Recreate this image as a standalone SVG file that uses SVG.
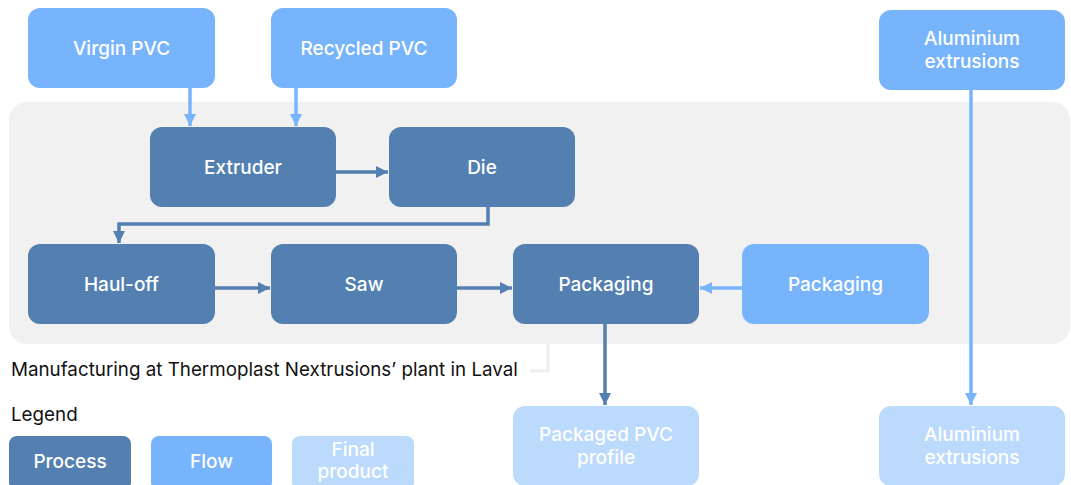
<svg xmlns="http://www.w3.org/2000/svg" width="1071" height="485" viewBox="0 0 1071 485">
<style>
.proc{fill:#537fb1}
.flow{fill:#78b4fc}
.fin{fill:#bcdafc}
.lbl{font-family:Inter,"Noto Sans",sans-serif;font-size:19px;font-weight:500;fill:#ffffff;text-anchor:middle}
.cap{font-family:Inter,"Noto Sans",sans-serif;font-size:18.8px;fill:#111111}
.cd{fill:none;stroke:#537fb1;stroke-width:3.5}
.cl{fill:none;stroke:#78b4fc;stroke-width:3.5}
</style>
<defs>
<marker id="ad" markerUnits="userSpaceOnUse" markerWidth="14" markerHeight="14" refX="12" refY="7" orient="auto"><path d="M0,1 L12,7 L0,13 Z" fill="#537fb1"/></marker>
<marker id="al" markerUnits="userSpaceOnUse" markerWidth="14" markerHeight="14" refX="12" refY="7" orient="auto"><path d="M0,1 L12,7 L0,13 Z" fill="#78b4fc"/></marker>
</defs>
<rect x="0" y="0" width="1071" height="485" fill="#ffffff"/>
<g id="container">
<rect x="9" y="102" width="1061" height="242" rx="18" fill="#f1f1f1"/>
<path d="M548,344 V371 H530" fill="none" stroke="#eeeeee" stroke-width="3"/>
<text class="cap" x="11" y="376">Manufacturing at Thermoplast Nextrusions’ plant in Laval</text>
</g>
<g id="connectors">
<path class="cl" d="M190,88 V126" marker-end="url(#al)"/>
<path class="cl" d="M296,88 V126" marker-end="url(#al)"/>
<path class="cd" d="M336,172 H388" marker-end="url(#ad)"/>
<path class="cd" d="M488,207 V224 H119 V243" marker-end="url(#ad)"/>
<path class="cd" d="M215,288 H270" marker-end="url(#ad)"/>
<path class="cd" d="M457,288 H512" marker-end="url(#ad)"/>
<path class="cl" d="M742,288 H700" marker-end="url(#al)"/>
<path class="cd" d="M605,324 V405" marker-end="url(#ad)"/>
<path class="cl" d="M971,90 V405" marker-end="url(#al)"/>
</g>
<g id="virgin-pvc"><rect class="flow" x="28" y="8" width="187" height="80" rx="12"/><text class="lbl" x="121.5" y="55">Virgin PVC</text></g>
<g id="recycled-pvc"><rect class="flow" x="271" y="8" width="186" height="80" rx="12"/><text class="lbl" x="364" y="55">Recycled PVC</text></g>
<g id="aluminium-top"><rect class="flow" x="879" y="10" width="186" height="80" rx="12"/><text class="lbl" x="972" y="45">Aluminium</text><text class="lbl" x="972" y="68">extrusions</text></g>
<g id="extruder"><rect class="proc" x="150" y="127" width="186" height="80" rx="12"/><text class="lbl" x="243" y="174">Extruder</text></g>
<g id="die"><rect class="proc" x="389" y="127" width="186" height="80" rx="12"/><text class="lbl" x="482" y="174">Die</text></g>
<g id="haul-off"><rect class="proc" x="28" y="244" width="187" height="80" rx="12"/><text class="lbl" x="121.5" y="291">Haul-off</text></g>
<g id="saw"><rect class="proc" x="271" y="244" width="186" height="80" rx="12"/><text class="lbl" x="364" y="291">Saw</text></g>
<g id="packaging-process"><rect class="proc" x="513" y="244" width="186" height="80" rx="12"/><text class="lbl" x="606" y="291">Packaging</text></g>
<g id="packaging-flow"><rect class="flow" x="742" y="244" width="187" height="80" rx="12"/><text class="lbl" x="835.5" y="291">Packaging</text></g>
<g id="packaged-pvc"><rect class="fin" x="513" y="406" width="186" height="80" rx="12"/><text class="lbl" x="606" y="441">Packaged PVC</text><text class="lbl" x="606" y="464">profile</text></g>
<g id="aluminium-bottom"><rect class="fin" x="879" y="406" width="186" height="80" rx="12"/><text class="lbl" x="972" y="441">Aluminium</text><text class="lbl" x="972" y="464">extrusions</text></g>
<g id="legend">
<text class="cap" x="11" y="421">Legend</text>
<rect class="proc" x="9" y="436" width="122" height="54" rx="8"/><text class="lbl" x="70" y="468">Process</text>
<rect class="flow" x="151" y="436" width="121" height="54" rx="8"/><text class="lbl" x="211.5" y="468">Flow</text>
<rect class="fin" x="292" y="436" width="122" height="54" rx="8"/><text class="lbl" x="353" y="456">Final</text><text class="lbl" x="353" y="478">product</text>
</g>
</svg>
